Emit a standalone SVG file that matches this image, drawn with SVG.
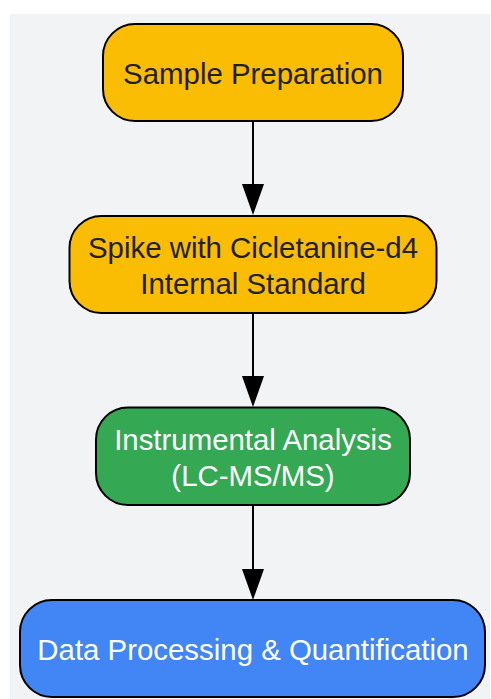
<svg xmlns="http://www.w3.org/2000/svg" width="491" height="699" viewBox="0 0 491 699">
  <style>
    .node { stroke: #000; stroke-width: 2; }
    .label { font-family: "Liberation Sans", Arial, sans-serif; font-size: 29.4px; text-anchor: middle; }
    .dark { fill: #202124; }
    .light { fill: #ffffff; }
    .edge { stroke: #000; stroke-width: 2; fill: none; }
    .head { fill: #000; }
  </style>
  <rect x="10" y="14" width="480" height="685" fill="#F1F3F4"/>
  <g id="connectors">
    <line class="edge" x1="253" y1="121" x2="253" y2="184" />
    <path class="head" d="M242,184 L264,184 L253,215 Z"/>
    <line class="edge" x1="253" y1="313" x2="253" y2="376" />
    <path class="head" d="M242,376 L264,376 L253,407 Z"/>
    <line class="edge" x1="253" y1="505" x2="253" y2="569" />
    <path class="head" d="M242,569 L264,569 L253,600 Z"/>
  </g>
  <g id="node-sample-preparation">
    <rect class="node" x="103" y="24" width="300" height="97" rx="32" fill="#FBBC04"/>
    <text class="label dark" x="253" y="83.5">Sample Preparation</text>
  </g>
  <g id="node-spike">
    <rect class="node" x="69.5" y="216" width="367" height="97" rx="32" fill="#FBBC04"/>
    <text class="label dark" x="253" y="257.5">Spike with Cicletanine-d4</text>
    <text class="label dark" x="253" y="293.5">Internal Standard</text>
  </g>
  <g id="node-instrumental">
    <rect class="node" x="96" y="407.5" width="314" height="97.5" rx="32" fill="#34A853"/>
    <text class="label light" x="253" y="449.5">Instrumental Analysis</text>
    <text class="label light" x="253" y="485.5">(LC-MS/MS)</text>
  </g>
  <g id="node-data-processing">
    <rect class="node" x="20" y="600" width="465" height="97" rx="32" fill="#4285F4"/>
    <text class="label light" x="253" y="659.5">Data Processing &amp; Quantification</text>
  </g>
</svg>
